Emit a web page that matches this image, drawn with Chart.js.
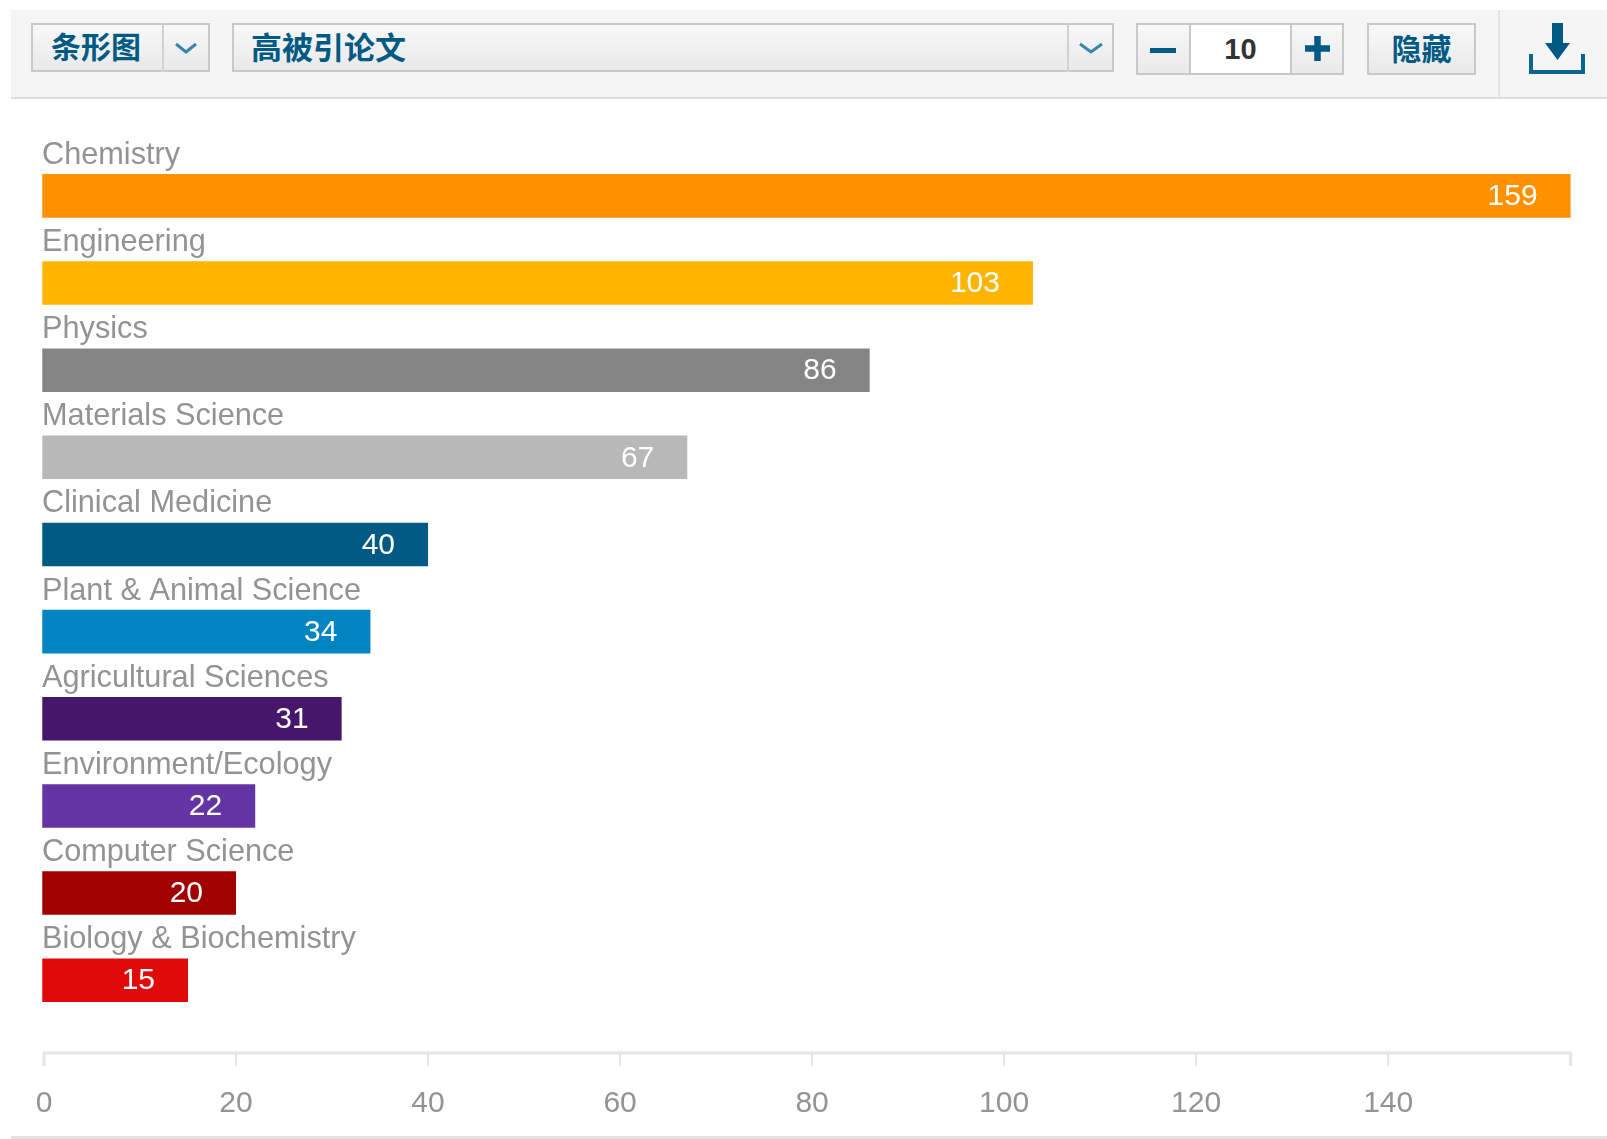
<!DOCTYPE html>
<html lang="zh">
<head>
<meta charset="utf-8">
<title>高被引论文</title>
<script src="https://cdn.jsdelivr.net/npm/chart.js@4"></script>
<style>
  html, body { margin: 0; padding: 0; background: #fff; }
  body { position: relative; width: 1607px; height: 1139px; overflow: hidden; }
  canvas { position: absolute; left: 0; top: 0; }
  .toolbar { position: absolute; left: 11px; top: 10px; width: 1596px; height: 87px; background: #f5f5f5; border-bottom: 2px solid #dedede; }
  .ctl { position: absolute; box-sizing: border-box; top: 23px; height: 49px; border: 2px solid #c9c9c9;
         background: linear-gradient(#f8f8f8, #e9e9e9); color: #005a84;
         font: bold 30px "Noto Sans CJK SC", sans-serif; line-height: 41px; white-space: nowrap; }
  .tall { height: 52px; line-height: 44px; }
  .sep { position: absolute; top: 23px; width: 2px; background: #d2d2d2; }
  .glyph { position: absolute; left: 0; top: 0; pointer-events: none; }
  .footer { position: absolute; left: 11px; top: 1136px; width: 1596px; height: 3px; background: #e2e2e2; }
</style>
</head>
<body>
<canvas id="fieldChart" width="1607" height="1139"></canvas>

<div class="toolbar" style="left:11px"></div>
<div class="ctl" style="left:31px;width:179px;padding-left:18px">条形图</div>
<div class="sep" style="left:162px;height:49px"></div>
<div class="ctl" style="left:232px;width:882px;padding-left:17px;font-size:31px">高被引论文</div>
<div class="sep" style="left:1067px;height:49px"></div>
<div class="ctl tall" style="left:1136px;width:208px"></div>
<div class="ctl tall" style="left:1189px;width:103px;background:#fff;color:#333;text-align:center;font:bold 29px 'Liberation Sans',sans-serif;line-height:48px">10</div>
<div class="ctl tall" style="left:1367px;width:109px;text-align:center">隐藏</div>
<div class="sep" style="left:1498px;top:10px;height:87px;background:#e4e4e4"></div>
<div class="footer"></div>

<svg class="glyph" width="1607" height="110" fill="none">
  <path d="M176 44l10 8 10-8M1080 44l11 8 11-8" stroke="#3a86aa" stroke-width="3"/>
  <rect x="1150" y="48" width="26" height="5" fill="#005a84"/>
  <path d="M1305 48.500h25M1317.500 36v25" stroke="#005a84" stroke-width="6.500"/>
  <path d="M1531 54v18h52V54" stroke="#0a6690" stroke-width="4"/>
  <path d="M1552 23h11v20h7l-12.500 17L1545 43h7z" fill="#005a84"/>
</svg>

<script>
const categories = [
    'Chemistry', 'Engineering', 'Physics', 'Materials Science', 'Clinical Medicine',
    'Plant & Animal Science', 'Agricultural Sciences', 'Environment/Ecology',
    'Computer Science', 'Biology & Biochemistry'
];
const paperCounts = [159, 103, 86, 67, 40, 34, 31, 22, 20, 15];
const barColors = [
    '#ff9000', '#ffb400', '#858585', '#b8b8b8', '#005a84',
    '#0085c0', '#45166a', '#6534a4', '#a00000', '#e00a0a'
];
const axisMax = 159;
const tickStep = 20;

const labelColor = '#939393';

// field names sit above each bar, counts sit inside its right end
const barLabels = {
    id: 'barLabels',
    afterDatasetsDraw(chart) {
        const ctx = chart.ctx;
        const bars = chart.getDatasetMeta(0).data;
        ctx.save();
        ctx.textBaseline = 'middle';
        bars.forEach((bar, i) => {
            ctx.font = '30.7px "Liberation Sans", Arial, sans-serif';
            ctx.textAlign = 'left';
            ctx.fillStyle = labelColor;
            ctx.fillText(categories[i], 42, bar.y - 40.5);
            ctx.font = '30px "Liberation Sans", Arial, sans-serif';
            ctx.textAlign = 'right';
            ctx.fillStyle = '#fff';
            ctx.fillText(String(paperCounts[i]), bar.x - 33, bar.y + 1);
        });
        ctx.restore();
    }
};

// bracket-style x axis, dropped below the last bar
const axisBracket = {
    id: 'axisBracket',
    afterDraw(chart) {
        const ctx = chart.ctx;
        const x = chart.scales.x;
        const y = 1053;
        ctx.save();
        ctx.strokeStyle = '#e6e6e6';
        ctx.lineWidth = 3;
        ctx.beginPath();
        ctx.moveTo(x.getPixelForValue(0), y + 13);
        ctx.lineTo(x.getPixelForValue(0), y);
        ctx.lineTo(x.getPixelForValue(axisMax), y);
        ctx.lineTo(x.getPixelForValue(axisMax), y + 13);
        ctx.stroke();
        ctx.lineWidth = 2;
        x.ticks.forEach(t => {
            if (t.value === 0) return;
            const px = x.getPixelForValue(t.value);
            ctx.beginPath();
            ctx.moveTo(px, y);
            ctx.lineTo(px, y + 13);
            ctx.stroke();
        });
        ctx.restore();
    }
};

new Chart(document.getElementById('fieldChart').getContext('2d'), {
    type: 'bar',
    data: {
        labels: categories,
        datasets: [{
            data: paperCounts,
            backgroundColor: barColors,
            base: -0.18,
            clip: false,
            categoryPercentage: 1,
            barPercentage: 0.5
        }]
    },
    options: {
        indexAxis: 'y',
        responsive: false,
        animation: false,
        layout: { padding: { left: 44, right: 36.4, top: 152.3, bottom: 0 } },
        plugins: { legend: { display: false }, tooltip: { enabled: false } },
        scales: {
            x: {
                min: 0,
                max: axisMax,
                grid: { display: false },
                border: { display: false },
                afterFit(scale) {
                    scale.height = 115.2;
                    scale.paddingLeft = 0;
                    scale.paddingRight = 0;
                },
                ticks: {
                    stepSize: tickStep,
                    includeBounds: false,
                    maxRotation: 0,
                    autoSkip: false,
                    padding: 54,
                    color: labelColor,
                    font: { family: '"Liberation Sans", Arial, sans-serif', size: 30 }
                }
            },
            y: {
                display: false
            }
        }
    },
    plugins: [barLabels, axisBracket]
});
</script>
</body>
</html>
